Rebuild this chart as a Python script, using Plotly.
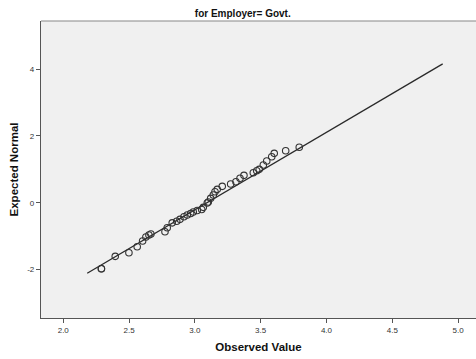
import plotly.graph_objects as go

obs_px = [101.5, 101.5, 115.3, 129, 137.3, 142.7, 146, 149, 151, 165, 167.3, 172.3, 176.7,
          180, 184, 187.3, 190.7, 193.3, 197.3, 201.7, 203.3, 207.3, 208.3, 210.7, 213.3,
          215, 217.3, 222.3, 230.7, 236, 240, 244, 253.3, 256.7, 259.3, 263.3, 266.7,
          271.7, 274.3, 285.7, 299.3]
exp_px = [268.7, 268.7, 256.3, 252.7, 246.7, 241, 237, 235, 234, 231.7, 227.7, 222.8, 221.2,
          219.3, 216.7, 215, 213.5, 212, 210.5, 209.5, 207.3, 203, 202, 198.3, 195,
          191.7, 189.3, 186.3, 184, 181.7, 178.3, 175.3, 172.7, 170.7, 169.3, 165, 161,
          156.7, 153.3, 150.7, 147.3]

observed = [round(2.0 + (p - 63.3) / 131.6, 3) for p in obs_px]
expected = [round((202.7 - p) / 33.4, 3) for p in exp_px]

line_x = [2.182, 4.883]
mean_val = 3.091
sd_val = 0.431
line_y = [(v - mean_val) / sd_val for v in line_x]

x_ticks = [2.0, 2.5, 3.0, 3.5, 4.0, 4.5, 5.0]
y_ticks = [-2, 0, 2, 4]

font_family = "Arial, Liberation Sans, sans-serif"

fig = go.Figure()
fig.add_trace(go.Scatter(x=line_x, y=line_y, mode="lines",
                         line=dict(color="#2a2a2a", width=1.3), hoverinfo="skip",
                         showlegend=False))
fig.add_trace(go.Scatter(x=observed, y=expected, mode="markers",
                         marker=dict(symbol="circle-open", size=6.5,
                                     color="#333333", line=dict(width=1.1)),
                         showlegend=False))

fig.update_layout(
    width=476, height=359,
    margin=dict(l=41, r=0, t=21, b=41),
    paper_bgcolor="white",
    plot_bgcolor="#f0f0f0",
    font=dict(family=font_family, color="#222222", size=9),
    title=dict(text="<b>for Employer= Govt.</b>", x=0.51, xanchor="center",
               y=1 - 13 / 359, yanchor="middle",
               font=dict(size=10, family=font_family, color="#111111")),
    xaxis=dict(range=[1.831, 5.136], tickvals=x_ticks,
               ticktext=[f"{v:.1f}" for v in x_ticks],
               showgrid=False, zeroline=False, showline=True,
               linecolor="#555555", linewidth=1.2, mirror=False,
               ticks="outside", ticklen=4, tickcolor="#555555",
               tickfont=dict(size=8, color="#333333"),
               title=dict(text="<b>Observed Value</b>", standoff=9,
                          font=dict(size=11.5, color="#111111"))),
    yaxis=dict(range=[-3.45, 5.44], tickvals=y_ticks,
               ticktext=[str(v) for v in y_ticks],
               showgrid=False, zeroline=False, showline=True,
               linecolor="#555555", linewidth=1.2, mirror=False,
               ticks="outside", ticklen=4, tickcolor="#555555",
               tickfont=dict(size=8, color="#333333"),
               title=dict(text="<b>Expected Normal</b>", standoff=6,
                          font=dict(size=11.5, color="#111111"))),
)
fig.add_shape(type="line", xref="paper", yref="paper", x0=0, x1=1, y0=1, y1=1,
              line=dict(color="#888888", width=1.2))

fig.write_html("out.html")
